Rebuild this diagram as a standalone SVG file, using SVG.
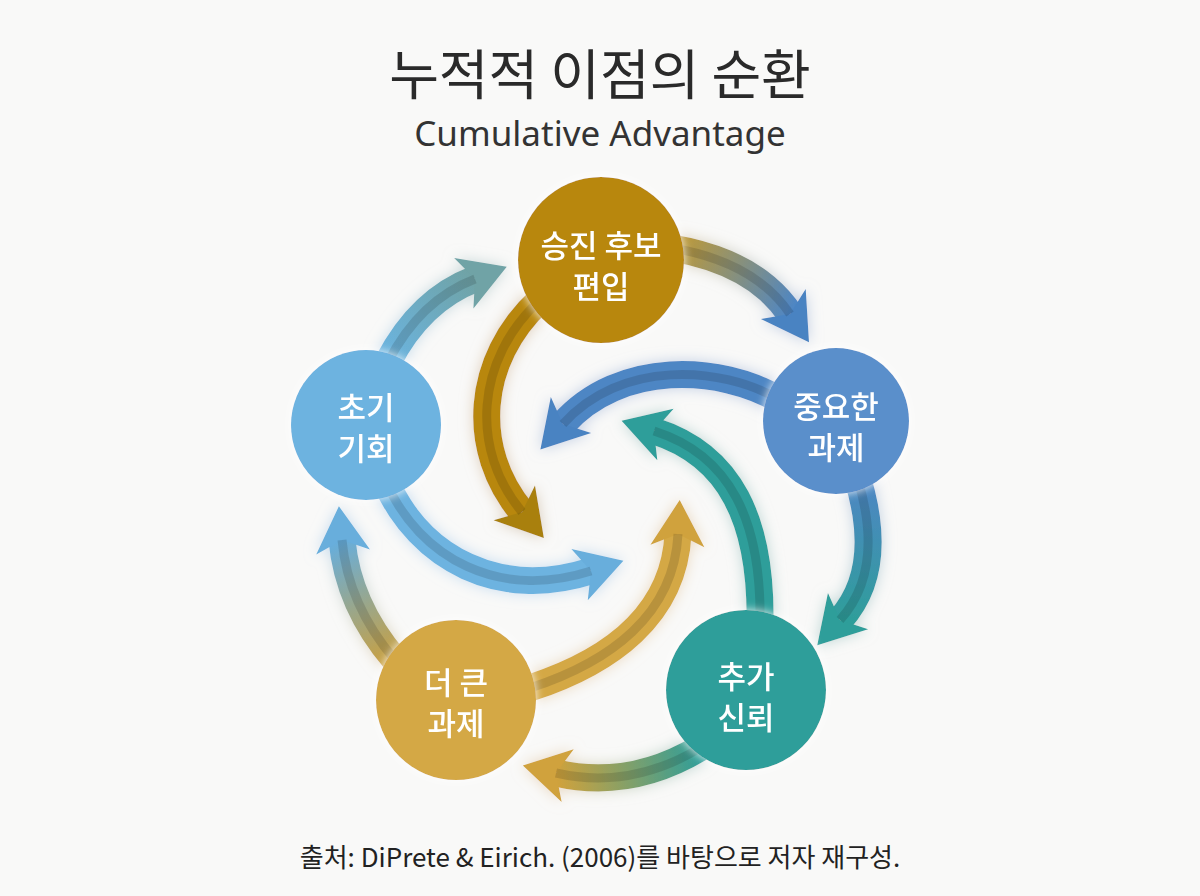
<svg xmlns="http://www.w3.org/2000/svg" width="1200" height="896" viewBox="0 0 1200 896">
<defs>
<style>
.title{font-family:"Noto Sans CJK KR","Noto Sans",sans-serif;font-size:54px;fill:#2a2a2a;text-anchor:middle}
.sub{font-family:"Noto Sans","Noto Sans CJK KR",sans-serif;font-size:35px;fill:#333;text-anchor:middle}
.foot{font-family:"Noto Sans CJK KR","Noto Sans",sans-serif;font-size:26px;fill:#222;text-anchor:middle}
.lbl{font-family:"Noto Sans CJK KR","Noto Sans",sans-serif;font-size:31px;font-weight:500;fill:#fff;text-anchor:middle}
.arr{fill:none;stroke-width:27;stroke-linecap:butt}
.band{fill:none;stroke:#000;stroke-opacity:0.13;stroke-width:9}
</style>
<filter id="glow" x="-30%" y="-30%" width="160%" height="160%">
<feGaussianBlur in="SourceGraphic" stdDeviation="7" result="b"/>
<feColorMatrix in="b" type="matrix" values="0.5 0 0 0 0.5  0 0.5 0 0 0.5  0 0 0.5 0 0.5  0 0 0 1 0" result="c"/>
<feMerge><feMergeNode in="c"/><feMergeNode in="SourceGraphic"/></feMerge>
</filter>
<filter id="cglow" x="-20%" y="-20%" width="140%" height="140%">
<feGaussianBlur in="SourceAlpha" stdDeviation="5" result="b"/>
<feFlood flood-color="#ffffff" flood-opacity="0.9"/>
<feComposite in2="b" operator="in" result="c"/>
<feMerge><feMergeNode in="c"/><feMergeNode in="SourceGraphic"/></feMerge>
</filter>
<marker id="mGoldD" markerUnits="userSpaceOnUse" markerWidth="70" markerHeight="70" viewBox="-12 -35 70 70" refX="6" refY="0" orient="auto"><path d="M-6,-27 L40,0 L-6,27 L6,0 Z" fill="#A9800F"/></marker>
<marker id="mBlue" markerUnits="userSpaceOnUse" markerWidth="70" markerHeight="70" viewBox="-12 -35 70 70" refX="6" refY="0" orient="auto"><path d="M-6,-27 L40,0 L-6,27 L6,0 Z" fill="#4A83C2"/></marker>
<marker id="mTeal" markerUnits="userSpaceOnUse" markerWidth="70" markerHeight="70" viewBox="-12 -35 70 70" refX="6" refY="0" orient="auto"><path d="M-6,-27 L40,0 L-6,27 L6,0 Z" fill="#2E9E9A"/></marker>
<marker id="mGold" markerUnits="userSpaceOnUse" markerWidth="70" markerHeight="70" viewBox="-12 -35 70 70" refX="6" refY="0" orient="auto"><path d="M-6,-27 L40,0 L-6,27 L6,0 Z" fill="#D0A23C"/></marker>
<marker id="mLBlue" markerUnits="userSpaceOnUse" markerWidth="70" markerHeight="70" viewBox="-12 -35 70 70" refX="6" refY="0" orient="auto"><path d="M-6,-27 L40,0 L-6,27 L6,0 Z" fill="#67AEDC"/></marker>
<marker id="mSlate" markerUnits="userSpaceOnUse" markerWidth="70" markerHeight="70" viewBox="-12 -35 70 70" refX="6" refY="0" orient="auto"><path d="M-6,-27 L40,0 L-6,27 L6,0 Z" fill="#6FA3A6"/></marker>
<linearGradient id="g1" gradientUnits="userSpaceOnUse" x1="672" y1="248" x2="790" y2="314"><stop offset="0" stop-color="#C09A35"/><stop offset="1" stop-color="#4E86C4"/></linearGradient>
<linearGradient id="g2" gradientUnits="userSpaceOnUse" x1="858" y1="480" x2="840" y2="620"><stop offset="0" stop-color="#4E86C4"/><stop offset="1" stop-color="#2E9E9A"/></linearGradient>
<linearGradient id="g3" gradientUnits="userSpaceOnUse" x1="700" y1="748" x2="556" y2="773"><stop offset="0" stop-color="#2E9E9A"/><stop offset="1" stop-color="#D0A23C"/></linearGradient>
<linearGradient id="g4" gradientUnits="userSpaceOnUse" x1="395" y1="660" x2="342" y2="540"><stop offset="0" stop-color="#C9A040"/><stop offset="1" stop-color="#67AEDC"/></linearGradient>
<linearGradient id="g5" gradientUnits="userSpaceOnUse" x1="388" y1="362" x2="475" y2="279"><stop offset="0" stop-color="#6BB4E0"/><stop offset="1" stop-color="#6FA3A6"/></linearGradient>
</defs>
<rect width="1200" height="896" fill="#F9F9F8"/>
<text class="title" x="600" y="95">누적적 이점의 순환</text>
<text class="sub" x="600" y="146">Cumulative Advantage</text>

<g id="connectors">
<g filter="url(#glow)">
<path class="arr" d="M672,248 Q755,262 790,314" stroke="url(#g1)" marker-end="url(#mBlue)"/>
<path class="arr" d="M858,480 Q885,570 840,620" stroke="url(#g2)" marker-end="url(#mTeal)"/>
<path class="arr" d="M700,748 Q630,790 556,773" stroke="url(#g3)" marker-end="url(#mGold)"/>
<path class="arr" d="M395,660 Q348,605 342,540" stroke="url(#g4)" marker-end="url(#mLBlue)"/>
<path class="arr" d="M388,362 Q420,300 475,279" stroke="url(#g5)" marker-end="url(#mSlate)"/>
<path class="arr" d="M540,300 C475,360 470,450 522,512" stroke="#B8870F" marker-end="url(#mGoldD)"/>
<path class="arr" d="M780,400 C720,365 620,360 563,424" stroke="#4E86C4" marker-end="url(#mBlue)"/>
<path class="arr" d="M760,625 C762,520 730,455 654,431" stroke="#2E9E9A" marker-end="url(#mTeal)"/>
<path class="arr" d="M530,688 C610,662 674,615 678,534" stroke="#D4A845" marker-end="url(#mGold)"/>
<path class="arr" d="M385,480 C420,560 500,600 591,571" stroke="#6DB3E0" marker-end="url(#mLBlue)"/>
</g>
<g>
<path class="band" d="M672,248 Q755,262 790,314"/>
<path class="band" d="M858,480 Q885,570 840,620"/>
<path class="band" d="M700,748 Q630,790 556,773"/>
<path class="band" d="M395,660 Q348,605 342,540"/>
<path class="band" d="M388,362 Q420,300 475,279"/>
<path class="band" d="M540,300 C475,360 470,450 522,512"/>
<path class="band" d="M780,400 C720,365 620,360 563,424"/>
<path class="band" d="M760,625 C762,520 730,455 654,431"/>
<path class="band" d="M530,688 C610,662 674,615 678,534"/>
<path class="band" d="M385,480 C420,560 500,600 591,571"/>
</g>
</g>

<g id="n-promo" filter="url(#cglow)">
<circle cx="601" cy="260" r="83" fill="#B8870F"/>
<text class="lbl" x="601" y="257">승진 후보</text>
<text class="lbl" x="601" y="298">편입</text>
</g>
<g id="n-task" filter="url(#cglow)">
<circle cx="836" cy="421" r="73" fill="#5A8FCB"/>
<text class="lbl" x="836" y="418">중요한</text>
<text class="lbl" x="836" y="459">과제</text>
</g>
<g id="n-trust" filter="url(#cglow)">
<circle cx="746" cy="690" r="80" fill="#2E9E9A"/>
<text class="lbl" x="746" y="688">추가</text>
<text class="lbl" x="746" y="729">신뢰</text>
</g>
<g id="n-bigger" filter="url(#cglow)">
<circle cx="456" cy="700" r="80" fill="#D4A845"/>
<text class="lbl" x="456" y="694">더 큰</text>
<text class="lbl" x="456" y="735">과제</text>
</g>
<g id="n-early" filter="url(#cglow)">
<circle cx="366" cy="425" r="75" fill="#6DB3E0"/>
<text class="lbl" x="366" y="419">초기</text>
<text class="lbl" x="366" y="460">기회</text>
</g>

<text class="foot" x="600" y="867">출처: DiPrete &amp; Eirich. (2006)를 바탕으로 저자 재구성.</text>
</svg>
